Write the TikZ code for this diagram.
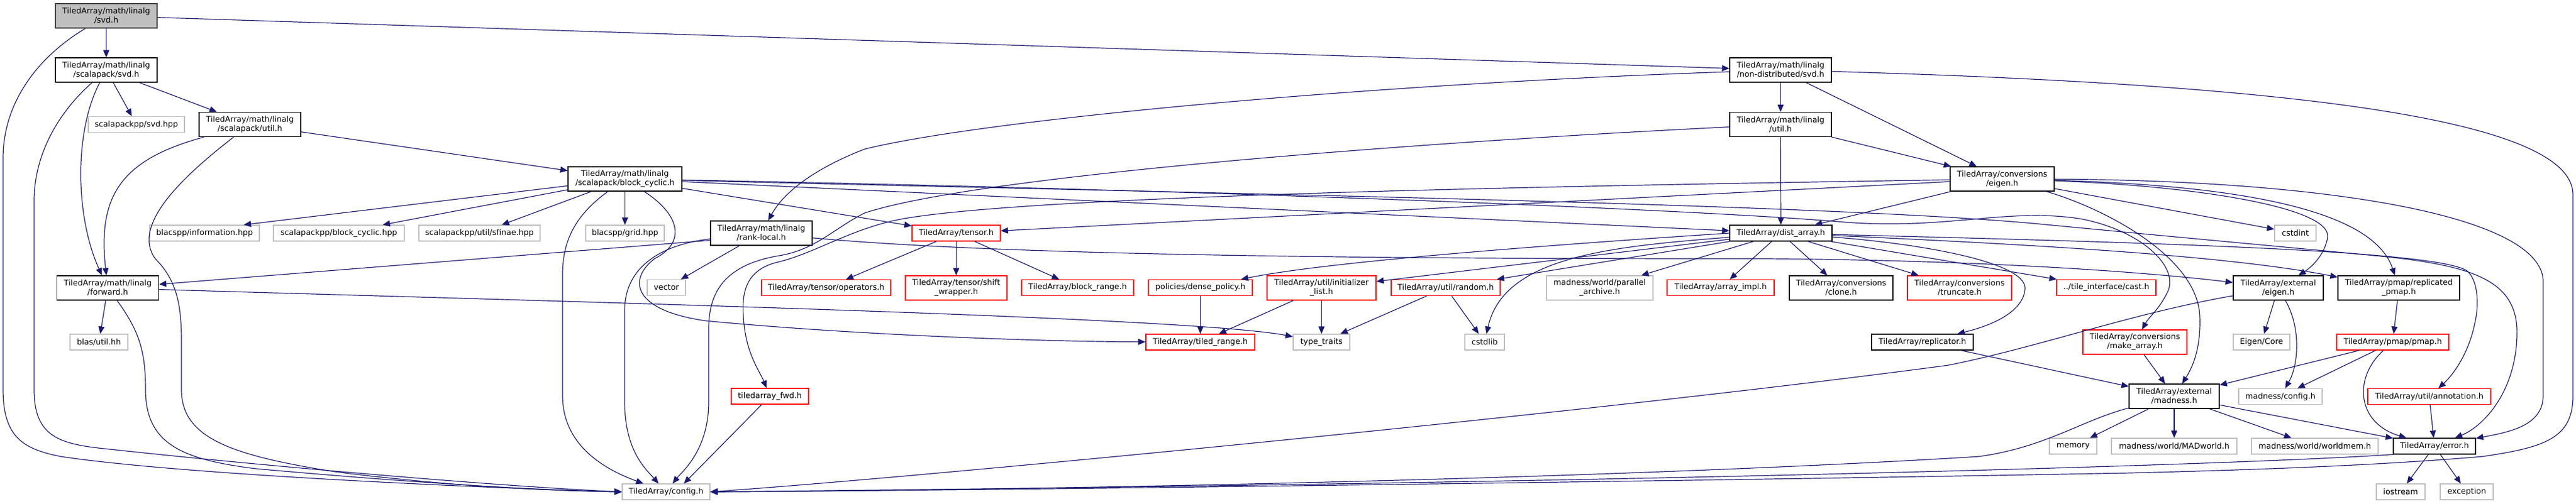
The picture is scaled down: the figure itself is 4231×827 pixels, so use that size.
\documentclass[tikz,border=0pt]{standalone}
\usepackage{fontspec}
\setmainfont{DejaVu Sans}
\usetikzlibrary{arrows.meta}
\definecolor{edgec}{RGB}{25,25,112}
\definecolor{extc}{RGB}{191,191,191}
\definecolor{rootfill}{RGB}{191,191,191}
\definecolor{rootline}{RGB}{64,64,64}
\definecolor{redc}{RGB}{255,0,0}
\tikzset{
  box/.style={draw, line width=1.3pt, inner sep=0pt, align=center, font=\fontsize{13pt}{15pt}\selectfont, minimum height=26pt, text=black},
  two/.style={minimum height=40pt},
  bw/.style={minimum width=#1pt},
  rootbox/.style={box, draw=rootline, fill=rootfill},
  docbox/.style={box, draw=black},
  extbox/.style={box, draw=extc},
  redbox/.style={box, draw=redc},
  dep/.style={draw=edgec, line width=1.2pt, -{Triangle[length=12pt,width=10pt]}},
}
\begin{document}
\begin{tikzpicture}[x=1pt,y=-1pt]
\useasboundingbox (0,0) rectangle (4231,827);
% nodes
\node[rootbox,two,bw=167] (svd) at (174.5,26) {TiledArray/math/linalg\\/svd.h};
\node[docbox,two,bw=167] (scsvd) at (174.5,115) {TiledArray/math/linalg\\/scalapack/svd.h};
\node[extbox,bw=158] (spsvd) at (224,204.5) {scalapackpp/svd.hpp};
\node[docbox,two,bw=167] (scutil) at (410.5,204.5) {TiledArray/math/linalg\\/scalapack/util.h};
\node[extbox,bw=180] (info) at (336,383) {blacspp/information.hpp};
\node[extbox,bw=215] (spbc) at (556.5,383) {scalapackpp/block\_cyclic.hpp};
\node[extbox,bw=199] (sfinae) at (787.5,383) {scalapackpp/util/sfinae.hpp};
\node[docbox,two,bw=167] (fwdh) at (177,473) {TiledArray/math/linalg\\/forward.h};
\node[extbox,bw=95] (blas) at (162.5,562) {blas/util.hh};
\node[docbox,two,bw=187] (bcyc) at (1026.5,294) {TiledArray/math/linalg\\/scalapack/block\_cyclic.h};
\node[extbox,bw=129] (grid) at (1026.5,383) {blacspp/grid.hpp};
\node[docbox,two,bw=167] (rankl) at (1250.5,383) {TiledArray/math/linalg\\/rank-local.h};
\node[extbox,bw=63] (vec) at (1094.5,472.5) {vector};
\node[redbox,bw=212] (tops) at (1357,472.5) {TiledArray/tensor/operators.h};
\node[redbox,bw=127] (tfwd) at (1264.5,651) {tiledarray\_fwd.h};
\node[extbox,bw=144] (cfg) at (1094,808) {TiledArray/config.h};
\node[redbox,bw=145] (tensor) at (1570.5,383) {TiledArray/tensor.h};
\node[redbox,two,bw=167] (shift) at (1570.5,473) {TiledArray/tensor/shift\\\_wrapper.h};
\node[redbox,bw=184] (brange) at (1770,472.5) {TiledArray/block\_range.h};
\node[redbox,bw=171] (dense) at (1971.5,472.5) {policies/dense\_policy.h};
\node[redbox,bw=179] (trange) at (1971.5,562) {TiledArray/tiled\_range.h};
\node[redbox,two,bw=179] (initl) at (2170.5,473) {TiledArray/util/initializer\\\_list.h};
\node[extbox,bw=93] (ttraits) at (2170.5,562) {type\_traits};
\node[redbox,bw=179] (rand) at (2374.5,472.5) {TiledArray/util/random.h};
\node[extbox,bw=65] (cstdlib) at (2438.5,562) {cstdlib};
\node[extbox,two,bw=175] (parch) at (2627.5,473) {madness/world/parallel\\\_archive.h};
\node[redbox,bw=176] (aimpl) at (2826,472.5) {TiledArray/array\_impl.h};
\node[docbox,two,bw=167] (ndsvd) at (2924.5,115) {TiledArray/math/linalg\\/non-distributed/svd.h};
\node[docbox,two,bw=167] (lutil) at (2924.5,204.5) {TiledArray/math/linalg\\/util.h};
\node[docbox,two,bw=171] (ceig) at (3288.5,294) {TiledArray/conversions\\/eigen.h};
\node[docbox,bw=168] (darr) at (2925,383) {TiledArray/dist\_array.h};
\node[docbox,two,bw=170] (clone) at (3024,473) {TiledArray/conversions\\/clone.h};
\node[redbox,two,bw=171] (trunc) at (3218.5,473) {TiledArray/conversions\\/truncate.h};
\node[redbox,bw=163] (cast) at (3459.5,472.5) {../tile\_interface/cast.h};
\node[docbox,bw=167] (repl) at (3157.5,562) {TiledArray/replicator.h};
\node[redbox,two,bw=171] (mkarr) at (3506.5,562) {TiledArray/conversions\\/make\_array.h};
\node[docbox,two,bw=148] (emad) at (3571,651) {TiledArray/external\\/madness.h};
\node[extbox,bw=78] (memory) at (3405,733) {memory};
\node[extbox,bw=206] (madw) at (3571,733) {madness/world/MADworld.h};
\node[extbox,bw=68] (cstdint) at (3770,383) {cstdint};
\node[docbox,two,bw=148] (eeig) at (3742,473) {TiledArray/external\\/eigen.h};
\node[docbox,two,bw=200] (rpmap) at (3940,473) {TiledArray/pmap/replicated\\\_pmap.h};
\node[extbox,bw=93] (ecore) at (3714.5,562) {Eigen/Core};
\node[redbox,bw=184] (pmap) at (3930,562) {TiledArray/pmap/pmap.h};
\node[extbox,bw=137] (mcfg) at (3745.5,651.5) {madness/config.h};
\node[redbox,bw=202] (annot) at (3990,651.5) {TiledArray/util/annotation.h};
\node[extbox,bw=208] (wmem) at (3802,733) {madness/world/worldmem.h};
\node[docbox,bw=135] (err) at (3998.5,733) {TiledArray/error.h};
\node[extbox,bw=80] (iostr) at (3943,808) {iostream};
\node[extbox,bw=87] (exc) at (4051.5,808) {exception};
% edges: svd
\draw[dep] (svd) -- (scsvd);
\draw[dep] (svd) -- (ndsvd);
\draw[dep] (svd) .. controls (60,95) and (5,170) .. (5,260) -- (5,640) .. controls (5,720) and (40,738) .. (100,750) .. controls (300,780) and (800,802) .. (cfg.west);
% scsvd
\draw[dep] (scsvd) -- (spsvd);
\draw[dep] (scsvd) -- (scutil);
\draw[dep] (scsvd) .. controls (120,220) and (125,360) .. (fwdh);
\draw[dep] (scsvd) .. controls (90,190) and (56,260) .. (56,330) -- (56,640) .. controls (56,720) and (100,730) .. (180,738) .. controls (400,762) and (800,798) .. (cfg.west);
% scutil
\draw[dep] (scutil) -- (bcyc);
\draw[dep] (scutil) .. controls (200,262) and (160,320) .. (fwdh);
\draw[dep] (scutil) .. controls (300,290) and (215,370) .. (255,425) .. controls (290,460) and (298,500) .. (298,560) -- (298,640) .. controls (298,720) and (380,748) .. (550,775) .. controls (750,800) and (900,806) .. (cfg.west);
% forward
\draw[dep] (fwdh) -- (blas);
\draw[dep] (fwdh) .. controls (230,545) and (239,580) .. (239,640) .. controls (239,730) and (300,755) .. (420,770) .. controls (700,795) and (900,806) .. (cfg.west);
\draw[dep] (fwdh) .. controls (900,495) and (1950,520) .. (ttraits);
% block_cyclic
\draw[dep] (bcyc) -- (info.12);
\draw[dep] (bcyc) -- (spbc);
\draw[dep] (bcyc) -- (sfinae);
\draw[dep] (bcyc) -- (grid);
\draw[dep] (bcyc) -- (tensor);
\draw[dep] (bcyc) -- (darr);
\draw[dep] (bcyc) .. controls (950,350) and (924,390) .. (924,450) -- (924,650) .. controls (924,730) and (990,770) .. (cfg);
\draw[dep] (bcyc) .. controls (1120,355) and (1125,400) .. (1075,425) .. controls (1030,460) and (1040,510) .. (1159,527) .. controls (1400,550) and (1700,561) .. (trange);
\draw[dep] (bcyc) .. controls (2000,318) and (3000,335) .. (3350,368) .. controls (3600,392) and (3800,410) .. (3900,420) .. controls (4060,435) and (4130,460) .. (4134,540) .. controls (4136,640) and (4080,700) .. (err);
\draw[dep] (bcyc) .. controls (2000,312) and (2800,345) .. (3030,365) .. controls (3200,378) and (3300,340) .. (3420,360) .. controls (3520,380) and (3580,440) .. (3560,480) .. controls (3545,510) and (3530,520) .. (mkarr);
% rank-local
\draw[dep] (rankl.188) -- (fwdh.4);
\draw[dep] (rankl) .. controls (1100,400) and (1026,430) .. (1026,510) -- (1026,660) .. controls (1026,740) and (1060,770) .. (cfg);
\draw[dep] (rankl) -- (vec);
\draw[dep] (rankl) .. controls (1700,425) and (2500,425) .. (2900,425) .. controls (3300,428) and (3550,450) .. (eeig);
% non-distributed svd
\draw[dep] (ndsvd) -- (lutil);
\draw[dep] (ndsvd) -- (ceig);
\draw[dep] (ndsvd) .. controls (2200,140) and (1600,200) .. (1420,245) .. controls (1330,280) and (1285,320) .. (rankl);
\draw[dep] (ndsvd) .. controls (3800,140) and (4226,200) .. (4226,320) -- (4226,650) .. controls (4226,720) and (4180,735) .. (4077,750) .. controls (3900,765) and (3700,772) .. (3500,777) .. controls (2800,790) and (1600,806) .. (cfg.east);
% linalg util
\draw[dep] (lutil) -- (darr);
\draw[dep] (lutil) -- (ceig);
\draw[dep] (lutil) .. controls (2300,235) and (1600,290) .. (1420,350) .. controls (1370,375) and (1340,410) .. (1280,420) .. controls (1190,435) and (1164,480) .. (1164,540) -- (1164,660) .. controls (1164,740) and (1120,775) .. (cfg);
% conversions/eigen
\draw[dep] (ceig) -- (darr);
\draw[dep] (ceig) -- (tensor);
\draw[dep] (ceig) -- (cstdint);
\draw[dep] (ceig) .. controls (2600,305) and (1700,320) .. (1480,360) .. controls (1400,375) and (1340,415) .. (1280,430) .. controls (1225,442) and (1218,480) .. (1221,520) .. controls (1224,580) and (1248,610) .. (tfwd);
\draw[dep] (ceig) .. controls (3600,305) and (3830,340) .. (3823,390) .. controls (3818,420) and (3795,440) .. (eeig);
\draw[dep] (ceig) .. controls (3700,305) and (3900,350) .. (rpmap);
\draw[dep] (ceig) .. controls (3800,296) and (4170,350) .. (4177,460) -- (4177,650) .. controls (4177,700) and (4120,710) .. (err);
\draw[dep] (ceig) .. controls (3450,340) and (3610,420) .. (3613,520) .. controls (3615,575) and (3600,605) .. (emad);
% dist_array
\draw[dep] (darr.west) .. controls (2400,412) and (2150,436) .. (dense);
\draw[dep] (darr) -- (initl);
\draw[dep] (darr) -- (rand);
\draw[dep] (darr) .. controls (2650,405) and (2470,420) .. (cstdlib);
\draw[dep] (darr) -- (parch);
\draw[dep] (darr) -- (aimpl);
\draw[dep] (darr) -- (clone);
\draw[dep] (darr) -- (trunc);
\draw[dep] (darr) -- (cast);
\draw[dep] (darr) .. controls (3150,400) and (3330,430) .. (3326,475) .. controls (3322,520) and (3250,540) .. (repl);
\draw[dep] (darr) .. controls (3300,400) and (3650,418) .. (rpmap.170);
\draw[dep] (darr) .. controls (3500,398) and (4000,410) .. (4052,445) .. controls (4070,460) and (4072,500) .. (4065,530) .. controls (4055,580) and (4030,615) .. (annot);
% tensor
\draw[dep] (tensor) -- (tops);
\draw[dep] (tensor) -- (shift);
\draw[dep] (tensor) -- (brange);
% misc
\draw[dep] (dense) -- (trange);
\draw[dep] (initl) -- (trange);
\draw[dep] (initl) -- (ttraits);
\draw[dep] (rand) -- (ttraits);
\draw[dep] (rand) -- (cstdlib);
\draw[dep] (tfwd) -- (cfg.25);
\draw[dep] (repl) -- (emad);
\draw[dep] (mkarr) -- (emad);
% external/madness
\draw[dep] (emad) -- (memory);
\draw[dep] (emad) -- (madw);
\draw[dep] (emad) -- (wmem);
\draw[dep] (emad) -- (err);
\draw[dep] (emad) .. controls (3420,690) and (3360,735) .. (3250,750) .. controls (2600,790) and (1600,806) .. (cfg.east);
% external/eigen
\draw[dep] (eeig) -- (ecore);
\draw[dep] (eeig) .. controls (3780,540) and (3775,600) .. (mcfg);
\draw[dep] (eeig) .. controls (3500,515) and (3350,570) .. (3200,600) .. controls (2600,680) and (1500,785) .. (cfg.east);
% pmap
\draw[dep] (rpmap) -- (pmap);
\draw[dep] (pmap) -- (emad);
\draw[dep] (pmap) -- (mcfg);
\draw[dep] (pmap) .. controls (3865,620) and (3870,695) .. (err);
\draw[dep] (annot) -- (err);
% error
\draw[dep] (err) -- (iostr);
\draw[dep] (err) -- (exc);
\draw[dep] (err.south west) .. controls (3700,762) and (2800,792) .. (cfg.east);
\end{tikzpicture}
\end{document}
